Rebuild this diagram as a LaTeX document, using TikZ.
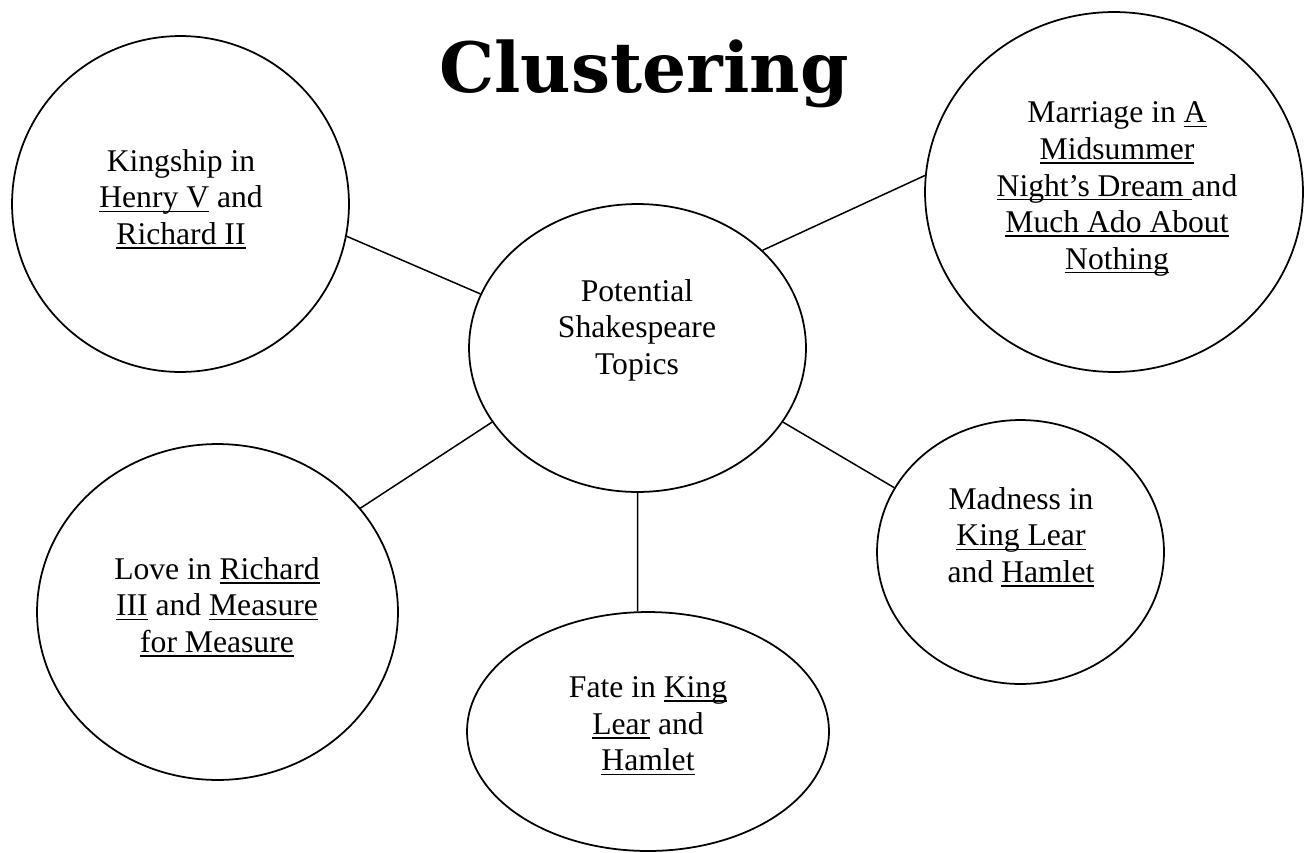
\documentclass[tikz,border=0pt]{standalone}
\usepackage{fontspec}
\setmainfont{Liberation Serif}
\newfontfamily\clusterfont{DejaVu Serif}
\newsavebox{\ulnbox}
\newcommand{\uln}[1]{\sbox{\ulnbox}{#1}\rlap{\rule[-2.4pt]{\wd\ulnbox}{0.9pt}}\usebox{\ulnbox}}
\usetikzlibrary{shapes.geometric}
\tikzset{
  bubble/.style 2 args={ellipse, draw=black, line width=1pt, fill=white, inner sep=0pt,
                        minimum width=#1, minimum height=#2},
  topic/.style={align=center, font=\fontsize{18}{20.8}\selectfont},
  link/.style={draw=black, line width=0.85pt},
}

\begin{document}
\begin{tikzpicture}[x=0.02cm, y=-0.02cm]
  \useasboundingbox (0,0) rectangle (1304,852);
  \node[font={\clusterfont\bfseries\fontsize{39.5}{39.5}\selectfont}, anchor=base] (title) at (644,92) {Clustering};

  \node[bubble={6.74cm}{6.72cm}] (king) at (180.5,204) {};
  \node[bubble={7.56cm}{7.2cm}] (marriage) at (1114,192) {};
  \node[bubble={6.74cm}{5.76cm}] (core) at (637.5,348) {};
  \node[bubble={7.22cm}{6.72cm}] (love) at (217.5,612) {};
  \node[bubble={5.74cm}{5.28cm}] (madness) at (1020.5,552) {};
  \node[bubble={7.24cm}{4.78cm}] (fate) at (648,731.5) {};

  \node[topic] (kingtext) at (181,199) {Kingship in\\\uln{Henry V} and\\\uln{Richard II}};
  \node[topic] (marriagetext) at (1117,189) {Marriage in \uln{A}\\\uln{Midsummer}\\\uln{Night’s Dream\ }and\\\uln{Much Ado About}\\\uln{Nothing}};
  \node[topic] (coretext) at (637,330) {Potential\\Shakespeare\\Topics};
  \node[topic] (lovetext) at (217,607) {Love in \uln{Richard}\\\uln{III} and \uln{Measure}\\\uln{for Measure}};
  \node[topic] (madnesstext) at (1021,537) {Madness in\\\uln{King Lear}\\and \uln{Hamlet}};
  \node[topic] (fatetext) at (648,726) {Fate in \uln{King}\\\uln{Lear} and\\\uln{Hamlet}};

  \draw[link] (king.-11.2) -- (core.161.1);
  \draw[link] (core.38.5) -- (marriage.175.8);
  \draw[link] (core.-153.2) -- (love.36.1);
  \draw[link] (core.-27.1) -- (madness.153);
  \draw[link] (core.-90) -- (fate.95.3);
\end{tikzpicture}
\end{document}
